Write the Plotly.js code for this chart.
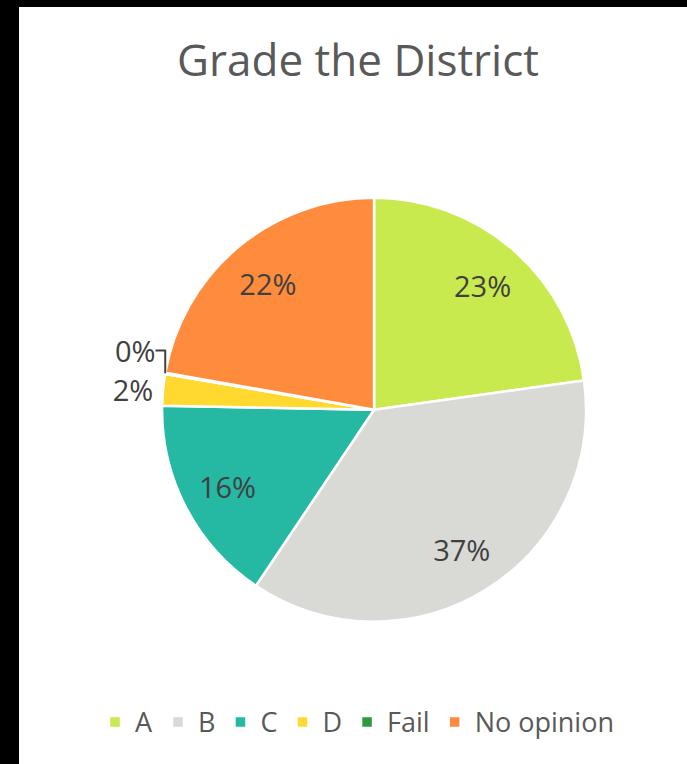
<!DOCTYPE html>
<html>
<head>
<meta charset="utf-8">
<script src="https://cdn.plot.ly/plotly-3.0.1.min.js"></script>
<style>
  html, body { margin: 0; padding: 0; background: #000; width: 687px; height: 764px; overflow: hidden; }
  #chart { position: absolute; left: 19px; top: 7px; width: 668px; height: 757px; }
</style>
</head>
<body>
<div id="chart"></div>
<script>
const categories = ["A", "B", "C", "D", "Fail", "No opinion"];
const values = [22.8, 36.6, 15.9, 2.4, 0.1, 22.2];
const colors = ["#C9EA4F", "#D9D9D6", "#25B9A4", "#FFD92F", "#2E9A40", "#FF8B3D"];
const textPositions = ["inside", "inside", "inside", "outside", "outside", "inside"];
const chartTitle = "Grade the District";

const FONT = "'Open Sans', 'Noto Sans', sans-serif";
const pieDomain = { x: [0.214, 0.849], y: [0.188, 0.748] };

// Main pie: filled slices, legend
const mainPie = {
  type: "pie",
  labels: categories,
  values: values,
  sort: false,
  direction: "clockwise",
  rotation: 0,
  marker: { colors: colors, line: { color: "#FFFFFF", width: 2.5 } },
  textinfo: "none",
  hoverinfo: "label+percent",
  domain: pieDomain,
  automargin: false,
  showlegend: true
};

// Transparent ring carrying the percentage labels (places them near the rim like the original)
const labelRing = {
  type: "pie",
  labels: categories,
  values: values,
  sort: false,
  direction: "clockwise",
  rotation: 0,
  hole: 0.56,
  marker: { colors: categories.map(() => "rgba(0,0,0,0)"), line: { width: 0 } },
  texttemplate: "%{percent:.0%}",
  textposition: textPositions,
  insidetextorientation: "horizontal",
  textfont: { family: FONT, size: 29, color: "#404040" },
  outsidetextfont: { family: FONT, size: 29, color: "#404040" },
  hoverinfo: "skip",
  domain: pieDomain,
  automargin: false,
  showlegend: false
};

const layout = {
  width: 668,
  height: 757,
  margin: { l: 0, r: 0, t: 0, b: 0 },
  paper_bgcolor: "#FFFFFF",
  plot_bgcolor: "#FFFFFF",
  font: { family: FONT, color: "#595959" },
  title: {
    text: chartTitle,
    x: 0.5075, xref: "paper", xanchor: "center",
    y: 0.9287, yref: "paper", yanchor: "middle",
    font: { family: FONT, size: 44, color: "#595959" }
  },
  showlegend: true,
  legend: {
    orientation: "h",
    x: 0.506, xanchor: "center",
    y: 0.055, yanchor: "middle",
    font: { family: FONT, size: 27, color: "#595959" },
    itemwidth: 30,
    traceorder: "normal"
  }
};

Plotly.newPlot("chart", [mainPie, labelRing], layout, { displayModeBar: false, staticPlot: true });
</script>
</body>
</html>
